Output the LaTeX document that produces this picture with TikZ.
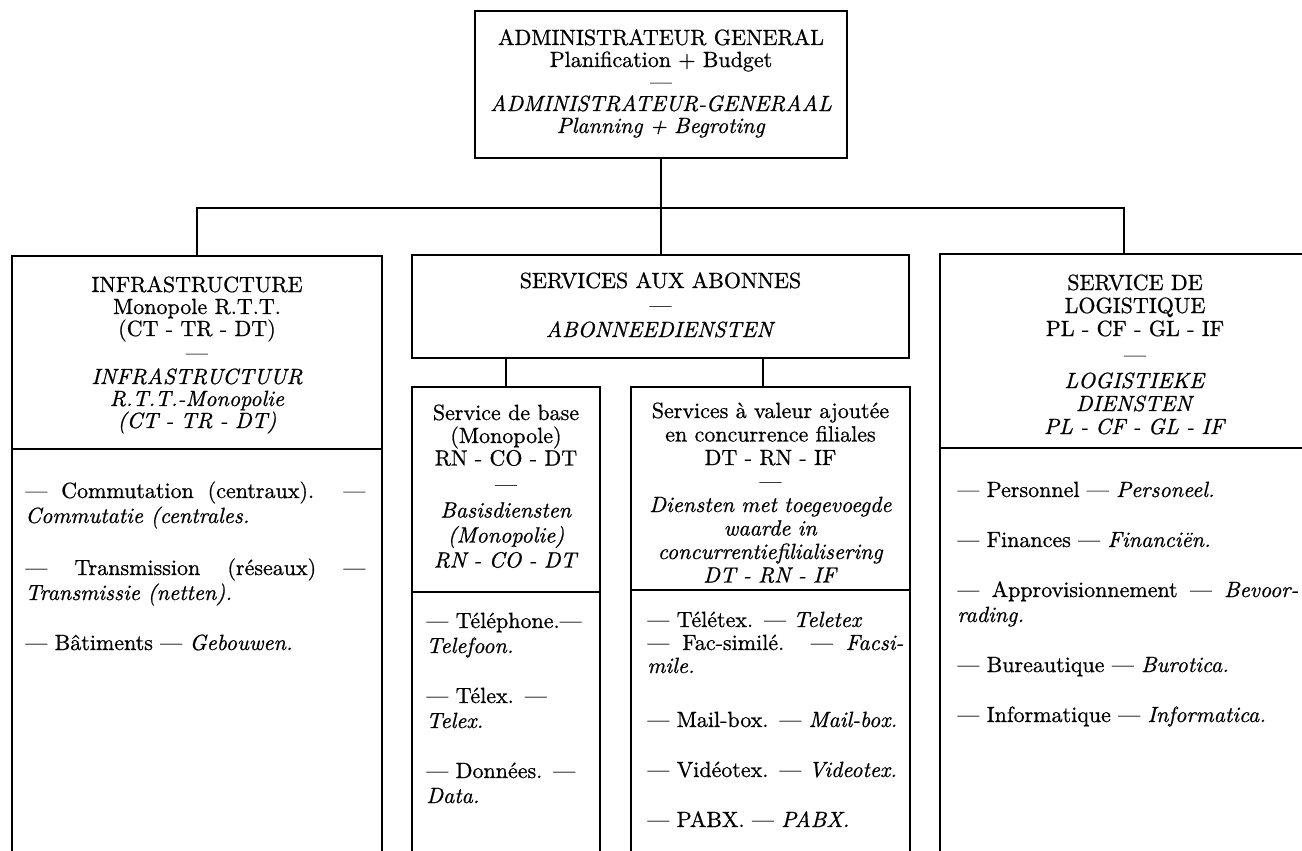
\documentclass[tikz,border=0pt]{standalone}
\usepackage{fontspec}
\setmainfont{lmroman10-regular.otf}[
  ItalicFont=lmroman10-italic.otf,
  FakeBold=0.8,
  ItalicFeatures={FakeBold=0.8}]
\usetikzlibrary{calc}
\tikzset{
  frame/.style={draw, line width=0.75pt, inner sep=0pt, outer sep=0pt},
  link/.style={line width=0.75pt},
  head/.style={align=center, inner sep=0pt, anchor=base, text width=#1},
  head/.default=180pt,
  item/.style={anchor=base west, inner sep=0pt, align=justify},
  short/.style={anchor=base west, inner sep=0pt, align=left, text width=#1},
  short/.default=165pt,
}
\begin{document}
\begin{tikzpicture}[x=0.5pt, y=-0.5pt, font=\fontsize{11}{11}\selectfont]
\clip (0,0) rectangle (1302,851);
\coordinate (bot) at (0,860);
\coordinate (hl) at (0,208);
\coordinate (jr) at (1124,0);
\coordinate (vr) at (763,0);

% frames
\node[frame, minimum width=186pt, minimum height=73.5pt] (ag) at (661,84.5) {};
\node[frame, minimum width=185pt, minimum height=96.5pt] (infra) at (197,352.5) {};
\node[frame, minimum width=248.5pt, minimum height=51.5pt] (svc) at (660.5,306.5) {};
\node[frame, minimum width=94pt, minimum height=102.5pt] (base) at (506,489.5) {};
\node[frame, minimum width=139.5pt, minimum height=101.5pt] (vas) at (770.5,488.5) {};
\node[frame, minimum width=200pt, minimum height=97pt] (logi) at (1140,351) {};

% open lower panels
\draw[link] (infra.south west) -- (infra.south west |- bot);
\draw[link] (infra.south east) -- (infra.south east |- bot);
\draw[link] (base.south west) -- (base.south west |- bot);
\draw[link] (base.south east) -- (base.south east |- bot);
\draw[link] (vas.south west) -- (vas.south west |- bot);
\draw[link] (vas.south east) -- (vas.south east |- bot);
\draw[link] (logi.south west) -- (logi.south west |- bot);

% connectors
\draw[link] (ag.south) -- (ag.south |- svc.north);
\draw[link] (infra.north) -- (infra.north |- hl) -| (jr |- logi.north);
\draw[link] (base.north) -- (base.north |- svc.south);
\draw[link] (vr |- svc.south) -- (vr |- vas.north);

% headings
\node[head] (agT) at (661,45)
  {ADMINISTRATEUR GENERAL\\Planification + Budget\\—\\\textit{ADMINISTRATEUR-GENERAAL}\\\textit{Planning + Begroting}};
\node[head] (infraT) at (197,292)
  {INFRASTRUCTURE\\Monopole R.T.T.\\(CT - TR - DT)\\[1pt]—\\[1pt]\textit{INFRASTRUCTUUR}\\\textit{R.T.T.-Monopolie}\\\textit{(CT - TR - DT)}};
\node[head=240pt, font=\fontsize{11}{12.25}\selectfont] (svcT) at (660.5,288)
  {SERVICES AUX ABONNES\\—\\\textit{ABONNEEDIENSTEN}};
\node[head=92pt, font=\fontsize{11}{12.5}\selectfont] (baseT) at (506,420)
  {Service de base\\[-1pt](Monopole)\\[-1.25pt]RN - CO - DT\\[0.5pt]—\\[0.5pt]\textit{Basisdiensten}\\\textit{(Monopolie)}\\\textit{RN - CO - DT}};
\node[head=138pt, font=\fontsize{11}{11.75}\selectfont] (vasT) at (770.5,418)
  {Services à valeur ajoutée\\en concurrence filiales\\DT - RN - IF\\—\\\textit{Diensten met toegevoegde}\\\textit{waarde in}\\\textit{concurrentiefilialisering}\\\textit{DT - RN - IF}};
\node[head=190pt, font=\fontsize{11}{11.5}\selectfont] (logiT) at (1135,290)
  {SERVICE DE\\LOGISTIQUE\\PL - CF - GL - IF\\[1.5pt]—\\[1.5pt]\textit{LOGISTIEKE}\\\textit{DIENSTEN}\\\textit{PL - CF - GL - IF}};

\begin{scope}[font=\fontsize{11}{12.5}\selectfont]
% infrastructure items
\node[item, text width=170pt] (in1) at (25,498) {— Commutation (centraux). —\linebreak\textit{Commutatie (centrales.}};
\node[item, text width=170pt] (in2) at (25,575) {— Transmission (réseaux) —\linebreak\textit{Transmissie (netten).}};
\node[short] (in3) at (25,650) {— Bâtiments — \textit{Gebouwen.}};

% basic services items
\node[short=85pt] (bs1) at (426,628) {— Téléphone.—\\\textit{Telefoon.}};
\node[short=85pt] (bs2) at (426,703) {— Télex. —\\\textit{Telex.}};
\node[short=85pt] (bs3) at (426,778) {— Données. —\\\textit{Data.}};

% value added services items
\node[short=128pt] (va1) at (647,627) {— Télétex. — \textit{Teletex}};
\node[item, text width=128pt, font=\fontsize{11}{11.5}\selectfont] (va2) at (647,650) {— Fac-similé. — \textit{Facsi-}\linebreak\textit{mile.}};
\node[short=128pt] (va3) at (647,727) {— Mail-box. — \textit{Mail-box.}};
\node[short=128pt] (va4) at (647,777) {— Vidéotex. — \textit{Videotex.}};
\node[short=128pt] (va5) at (647,827) {— PABX. — \textit{PABX.}};

% logistics items
\node[short] (lg1) at (957,497) {— Personnel — \textit{Personeel.}};
\node[short] (lg2) at (957,547) {— Finances — \textit{Financiën.}};
\node[item, text width=170.5pt] (lg3) at (957,597) {— Approvisionnement — \textit{Bevoor-}\linebreak\textit{rading.}};
\node[short] (lg4) at (957,672) {— Bureautique — \textit{Burotica.}};
\node[short] (lg5) at (957,722) {— Informatique — \textit{Informatica.}};
\end{scope}
\end{tikzpicture}
\end{document}
